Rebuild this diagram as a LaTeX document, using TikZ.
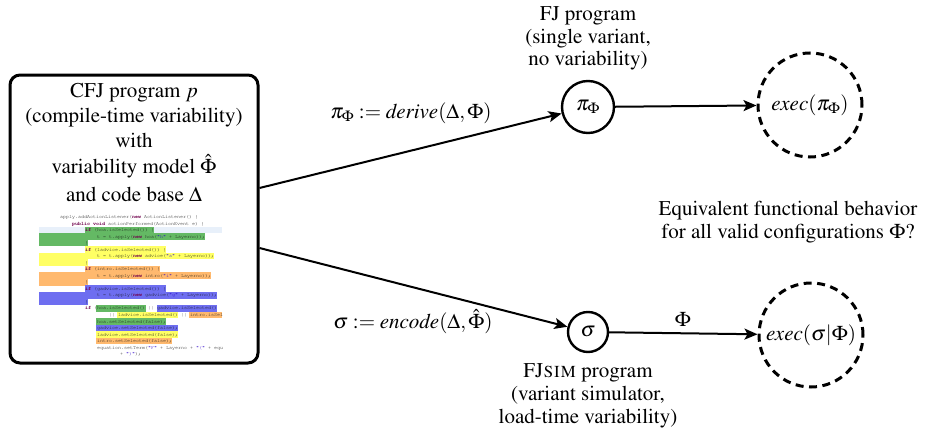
\documentclass[tikz,border=0pt]{standalone}
\usepackage[T1]{fontenc}
\usepackage{mathptmx}
\usetikzlibrary{arrows.meta}
\definecolor{cg}{RGB}{100,185,100}
\definecolor{cy}{RGB}{255,255,100}
\definecolor{co}{RGB}{255,185,110}
\definecolor{cb}{RGB}{110,110,240}
\definecolor{clb}{RGB}{232,240,250}
\definecolor{codec}{RGB}{20,20,20}
\definecolor{kwc}{RGB}{110,0,75}
\definecolor{strc}{RGB}{42,0,200}
\newcommand\kw[1]{\textcolor{kwc}{\bfseries #1}}
\newcommand\st[1]{\textcolor{strc}{#1}}
\newcommand\yy[1]{(217+(#1-1)*6.52)}
\newcommand\hlbar[4]{\fill[#1] (#2,{\yy{#4}-3.3}) rectangle (#3,{\yy{#4}+3.3});}
\newcommand\codeln[4]{\node[codetxt] (#1) at (#2,{\yy{#3}+1.7}) {#4};}
\newcommand\mainsz{\fontsize{21}{25}\selectfont}
\tikzset{
  codetxt/.style={anchor=base west, inner sep=0pt, font=\fontfamily{pcr}\fontsize{5}{6.5}\selectfont, text=codec},
  lbl/.style={anchor=base, inner sep=0pt, font=\mainsz},
  prog/.style={circle, draw, line width=2.4pt, inner sep=0pt, font=\mainsz},
  res/.style={circle, draw, line width=3pt, dash pattern=on 8pt off 5.5pt, minimum size=104pt, inner sep=0pt, font=\mainsz},
  arr/.style={-{Stealth[length=13pt,width=11pt,inset=3pt]}, line width=2pt},
  cfjbox/.style={draw, rounded corners=10pt, line width=3pt, minimum width=248pt, minimum height=288pt, inner sep=0pt}
}
\begin{document}
\begin{tikzpicture}[x=1pt,y=-1pt]
\useasboundingbox (0,0) rectangle (927,434);
% left box
\node[cfjbox] (box) at (134,219) {};
\node[lbl] (b1) at (134,97) {CFJ program $p$};
\node[lbl] (b2) at (134,122) {(compile-time variability)};
\node[lbl] (b3) at (134,147) {with};
\node[lbl] (b4) at (134,173) {variability model $\hat{\Phi}$};
\node[lbl] (b5) at (134,201) {and code base $\Delta$};
% code snippet
\begin{scope}
\clip (36,210) rectangle (222,360);
\hlbar{clb}{39}{222}{3}
\hlbar{cg}{85}{154}{3}
\hlbar{cg}{39}{205}{4}
\hlbar{cg}{39}{88}{5}
\hlbar{cy}{85}{166}{6}
\hlbar{cy}{39}{214}{7}
\hlbar{cy}{39}{88}{8}
\hlbar{co}{85}{160}{9}
\hlbar{co}{39}{211}{10}
\hlbar{co}{39}{88}{11}
\hlbar{cb}{85}{166}{12}
\hlbar{cb}{39}{217}{13}
\hlbar{cb}{39}{88}{14}
\hlbar{cg}{96}{146}{15}
\hlbar{cb}{157}{217}{15}
\hlbar{cy}{117}{178}{16}
\hlbar{co}{189}{222}{16}
\hlbar{cg}{96}{166}{17}
\hlbar{cb}{96}{178}{18}
\hlbar{cy}{96}{178}{19}
\hlbar{co}{96}{172}{20}
\codeln{c1}{60}{1}{apply.addActionListener(\kw{new} ActionListener() \{}
\codeln{c2}{72}{2}{\kw{public} \kw{void} actionPerformed(ActionEvent e) \{}
\codeln{c3}{85}{3}{\kw{if} (hoa.isSelected()) \{}
\codeln{c4}{97}{4}{t = t.apply(\kw{new} hoa(\st{"h"} + Layerno));}
\codeln{c5}{85}{5}{\}}
\codeln{c6}{85}{6}{\kw{if} (ladvice.isSelected()) \{}
\codeln{c7}{97}{7}{t = t.apply(\kw{new} advice(\st{"a"} + Layerno));}
\codeln{c8}{85}{8}{\}}
\codeln{c9}{85}{9}{\kw{if} (intro.isSelected()) \{}
\codeln{c10}{97}{10}{t = t.apply(\kw{new} intro(\st{"i"} + Layerno));}
\codeln{c11}{85}{11}{\}}
\codeln{c12}{85}{12}{\kw{if} (gadvice.isSelected()) \{}
\codeln{c13}{97}{13}{t = t.apply(\kw{new} gadvice(\st{"g"} + Layerno));}
\codeln{c14}{85}{14}{\}}
\codeln{c15}{85}{15}{\kw{if} (hoa.isSelected() || gadvice.isSelected()}
\codeln{c16}{109}{16}{|| ladvice.isSelected() || intro.isSelected()}
\codeln{c17}{97}{17}{hoa.setSelected(false);}
\codeln{c18}{97}{18}{gadvice.setSelected(false);}
\codeln{c19}{97}{19}{ladvice.setSelected(false);}
\codeln{c20}{97}{20}{intro.setSelected(false);}
\codeln{c21}{97}{21}{equation.setTerm(\st{"F"} + Layerno + \st{"("} + equation}
\codeln{c22}{120}{22}{+ \st{")"});}
\end{scope}
% program nodes
\node[prog, minimum size=52pt] (pi) at (588,107) {$\pi_\Phi$};
\node[prog, minimum size=40pt] (sig) at (588,332) {$\sigma$};
\node[res] (e1) at (810,105) {$\mathit{exec}(\pi_\Phi)$};
\node[res] (e2) at (811,335) {$\mathit{exec}(\sigma|\Phi)$};
% labels
\node[lbl] (fj1) at (588,20) {FJ program};
\node[lbl] (fj2) at (588,43) {(single variant,};
\node[lbl] (fj3) at (588,65) {no variability)};
\node[lbl] (fs1) at (588,377) {FJ\textsc{sim} program};
\node[lbl] (fs2) at (588,400) {(variant simulator,};
\node[lbl] (fs3) at (588,423) {load-time variability)};
\node[lbl] (q1) at (788,215) {Equivalent functional behavior};
\node[lbl] (q2) at (788,238) {for all valid configurations $\Phi$?};
\node[lbl] (dl) at (411,118) {$\pi_\Phi := \mathit{derive}(\Delta,\Phi)$};
\node[lbl] (el) at (413,328) {$\sigma := \mathit{encode}(\Delta,\hat{\Phi})$};
\node[lbl] (phl) at (683,326) {$\Phi$};
% connectors
\draw[arr] ([yshift=31pt]box.east) -- (pi);
\draw[arr] ([yshift=-29pt]box.east) -- (sig);
\draw[arr] (pi) -- (e1);
\draw[arr] (sig) -- (e2);
\end{tikzpicture}
\end{document}
